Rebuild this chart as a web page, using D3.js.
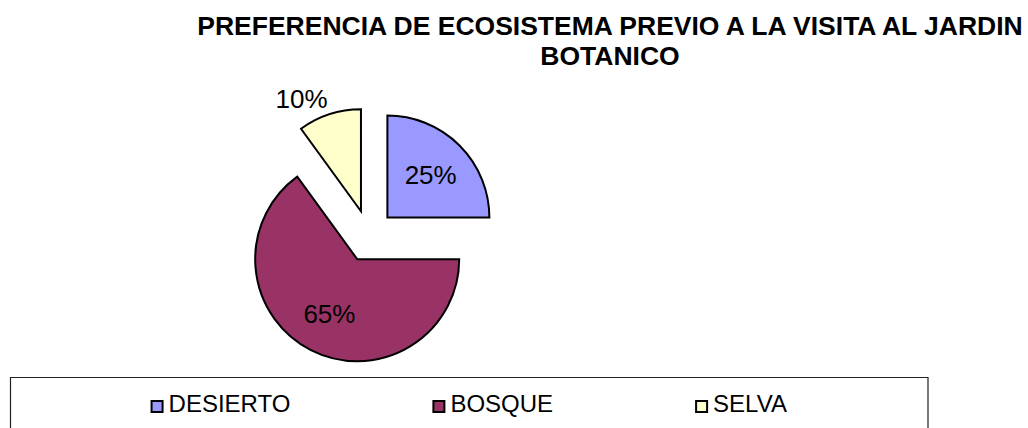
<!DOCTYPE html>
<html>
<head>
<meta charset="utf-8">
<script src="https://cdn.jsdelivr.net/npm/d3@7"></script>
<style>
  body { margin: 0; background: #fff; }
  text { font-family: Arial, "Liberation Sans", sans-serif; }
</style>
</head>
<body>
<div id="chart"></div>
<script>
var categorias = ["DESIERTO", "BOSQUE", "SELVA"];
var valores = [25, 65, 10];
var colores = ["#9999FF", "#993366", "#FFFFCC"];
var titulo = ["PREFERENCIA DE ECOSISTEMA PREVIO A LA VISITA AL JARDIN", "BOTANICO"];

var width = 1028, height = 428;
var radio = 102, separacion = 26;
var cx = 369, cy = 236;

var svg = d3.select("#chart")
    .append("svg")
    .attr("width", width)
    .attr("height", height);

// titulo
svg.append("text")
    .attr("x", 610)
    .attr("y", 35)
    .attr("text-anchor", "middle")
    .style("font-size", "26.5px")
    .style("font-weight", "bold")
    .selectAll("tspan")
    .data(titulo)
    .enter()
    .append("tspan")
    .attr("x", 610)
    .attr("dy", function(d, i) { return i == 0 ? 0 : 30; })
    .text(function(d) { return d; });

var datos = categorias.map(function(c, i) { return {cat: c, valor: valores[i], color: colores[i]}; });

var pie = d3.pie()
    .sort(null)
    .value(function(d) { return d.valor; });

var arc = d3.arc().innerRadius(0).outerRadius(radio);
var arcEtiqueta = d3.arc().innerRadius(radio * 0.6).outerRadius(radio * 0.6);
var arcFuera = d3.arc().innerRadius(radio * 1.06).outerRadius(radio * 1.06);

var g = svg.append("g")
    .attr("transform", "translate(" + cx + "," + cy + ")");

var porciones = g.selectAll(".porcion")
    .data(pie(datos))
    .enter()
    .append("g")
    .attr("class", "porcion")
    .attr("transform", function(d) {
        var a = (d.startAngle + d.endAngle) / 2;
        return "translate(" + (Math.sin(a) * separacion) + "," + (-Math.cos(a) * separacion) + ")";
    });

porciones.append("path")
    .attr("d", arc)
    .style("fill", function(d) { return d.data.color; })
    .style("stroke", "#000")
    .style("stroke-width", 2)
    .style("stroke-linejoin", "miter");

// etiquetas: dentro para porciones grandes, fuera para las chicas
porciones.append("text")
    .attr("transform", function(d) {
        var p = d.data.valor < 15 ? arcFuera.centroid(d) : arcEtiqueta.centroid(d);
        return "translate(" + p + ")";
    })
    .attr("text-anchor", function(d) {
        if (d.data.valor >= 15) return "middle";
        return (d.startAngle + d.endAngle) / 2 > Math.PI ? "end" : "start";
    })
    .attr("dy", function(d) { return d.data.valor < 15 ? "0" : "0.36em"; })
    .style("font-size", "26px")
    .text(function(d) { return d.data.valor + "%"; });

// leyenda
var legX0 = 10.5, legX1 = 928, legY = 377.5;
svg.append("path")
    .attr("d", "M" + legX0 + "," + height + "V" + legY + "H" + legX1 + "V" + height)
    .style("fill", "none")
    .style("stroke", "#222")
    .style("stroke-width", 1.2);

var leyenda = svg.append("g");
var items = leyenda.selectAll(".item")
    .data(datos)
    .enter()
    .append("g")
    .attr("class", "item");

items.append("rect")
    .attr("x", 0)
    .attr("y", -11)
    .attr("width", 11)
    .attr("height", 11)
    .style("fill", function(d) { return d.color; })
    .style("stroke", "#000")
    .style("stroke-width", 2);

items.append("text")
    .attr("x", 17)
    .attr("y", 0)
    .style("font-size", "24px")
    .text(function(d) { return d.cat; });

var anchos = [];
items.each(function() { anchos.push(this.getBBox().width); });
var hueco = 143;
var total = d3.sum(anchos) + hueco * (anchos.length - 1);
var x = (legX0 + legX1) / 2 - total / 2;
items.attr("transform", function(d, i) {
    var t = "translate(" + x + ",412)";
    x += anchos[i] + hueco;
    return t;
});
</script>
</body>
</html>
